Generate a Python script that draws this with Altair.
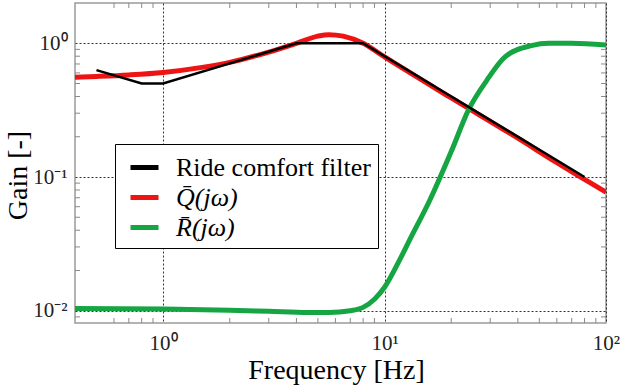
import altair as alt
import pandas as pd

# ---- data ----
series_names = ["Ride comfort filter", "Q\u0304(j\u03c9)", "R\u0304(j\u03c9)"]
series_colors = ["#000000", "#ee1414", "#15a542"]

filter_f = [0.5, 0.8, 1.0, 4.0, 8.0, 80.0]
filter_g = [0.63, 0.5, 0.5, 1.0, 1.0, 0.1]

q_f = [0.4, 0.5, 0.7, 1.0, 1.5, 2.0, 3.0, 4.0, 5.0, 5.6, 6.5, 8.0, 10, 20, 40, 60, 80, 100]
q_g = [0.557, 0.565, 0.58, 0.605, 0.66, 0.72, 0.86, 1.0, 1.13, 1.16, 1.13, 1.0,
       0.79, 0.39, 0.195, 0.128, 0.096, 0.077]

r_f = [0.4, 1, 2, 3, 4.5, 5.6, 7, 8, 9, 10, 11.7, 13, 16, 20, 24, 29, 35, 46, 55, 70, 100]
r_g = [0.0104, 0.0103, 0.0101, 0.0099, 0.0097, 0.0097, 0.0100, 0.0106, 0.0122, 0.015,
       0.024, 0.034, 0.067, 0.155, 0.32, 0.53, 0.79, 0.96, 1.0, 1.0, 0.97]

x_major = [1, 10, 100]
x_major_labels = ["10\u2070", "10\u00b9", "10\u00b2"]
y_major = [0.01, 0.1, 1]
y_major_labels = ["10\u207b\u00b2", "10\u207b\u00b9", "10\u2070"]

x_minor = [0.6, 0.7, 0.8, 0.9, 2, 3, 4, 5, 6, 7, 8, 9, 20, 30, 40, 50, 60, 70, 80, 90]
y_minor = [0.009, 0.02, 0.03, 0.04, 0.05, 0.06, 0.07, 0.08, 0.09,
           0.2, 0.3, 0.4, 0.5, 0.6, 0.7, 0.8, 0.9]

x_domain = [0.4, 100]
y_domain = [0.0081, 2.0]

W, H = 531, 320
FONT = "Liberation Serif"


def label_expr(vals, labels):
    expr = "''"
    for v, l in reversed(list(zip(vals, labels))):
        expr = f"datum.value == {v} ? '{l}' : ({expr})"
    return expr


df_filter = pd.DataFrame({"f": filter_f, "g": filter_g, "s": series_names[0]})
df_q = pd.DataFrame({"f": q_f, "g": q_g, "s": series_names[1]})
df_r = pd.DataFrame({"f": r_f, "g": r_g, "s": series_names[2]})
df_xt = pd.DataFrame({"f": x_minor})
df_yt = pd.DataFrame({"g": y_minor})

xs = alt.Scale(type="log", domain=x_domain, nice=False)
ys = alt.Scale(type="log", domain=y_domain, nice=False)

xaxis = alt.Axis(
    values=x_major, labelExpr=label_expr(x_major, x_major_labels),
    grid=True, gridDash=[2, 2], gridColor="#333333", gridWidth=1,
    ticks=False, tickSize=0, domain=False,
    labelFontSize=21, labelColor="#222222", labelPadding=9,
    labelFlush=False, labelOverlap=False,
    title="Frequency [Hz]", titleFontSize=28, titleFontWeight="normal",
    titleColor="#000000", titleX=261, titleY=55, titleBaseline="alphabetic",
)
yaxis = alt.Axis(
    values=y_major, labelExpr=label_expr(y_major, y_major_labels),
    grid=True, gridDash=[2, 2], gridColor="#333333", gridWidth=1,
    ticks=False, tickSize=0, domain=False,
    labelFontSize=21, labelColor="#222222", labelPadding=8,
    labelFlush=False, labelOverlap=False,
    title="Gain [-]", titleFontSize=28, titleFontWeight="normal",
    titleColor="#000000", titleX=-49, titleY=172, titleBaseline="alphabetic",
)

legend = alt.Legend(
    orient="none", legendX=40, legendY=141, title=None,
    symbolType="stroke", symbolStrokeWidth=5, symbolSize=784, symbolOffset=6,
    labelFontSize=26, labelColor="#000000",
    labelFontStyle=alt.ExprRef("datum.label == 'Ride comfort filter' ? 'normal' : 'italic'"),
    strokeColor="#000000", fillColor="#ffffff", padding=7, rowPadding=0, labelOffset=15,
    labelLimit=400,
)
color = alt.Color("s:N", scale=alt.Scale(domain=series_names, range=series_colors), legend=legend)


def line(df, width, interp):
    return alt.Chart(df).mark_line(strokeWidth=width, interpolate=interp, clip=True).encode(
        x=alt.X("f:Q", scale=xs, axis=xaxis),
        y=alt.Y("g:Q", scale=ys, axis=yaxis),
        color=color,
    )


tick_style = dict(color="#8a8a8a", strokeWidth=1)
bottom_ticks = alt.Chart(df_xt).mark_rule(**tick_style).encode(
    x=alt.X("f:Q", scale=xs, axis=xaxis), y=alt.value(H), y2=alt.value(H - 5))
top_ticks = alt.Chart(df_xt).mark_rule(**tick_style).encode(
    x=alt.X("f:Q", scale=xs, axis=xaxis), y=alt.value(0), y2=alt.value(5))
left_ticks = alt.Chart(df_yt).mark_rule(**tick_style).encode(
    y=alt.Y("g:Q", scale=ys, axis=yaxis), x=alt.value(0), x2=alt.value(5))
right_ticks = alt.Chart(df_yt).mark_rule(**tick_style).encode(
    y=alt.Y("g:Q", scale=ys, axis=yaxis), x=alt.value(W), x2=alt.value(W - 5))

chart = alt.layer(
    bottom_ticks, top_ticks, left_ticks, right_ticks,
    line(df_q, 5, "monotone"),
    line(df_r, 5, "monotone"),
    line(df_filter, 2.5, "linear"),
).properties(
    width=W, height=H,
    autosize=alt.AutoSizeParams(type="none"),
    padding={"left": 75, "top": 3, "right": 15, "bottom": 64},
    background="#ffffff",
).configure(
    font=FONT,
).configure_axis(
    labelFont=FONT, titleFont=FONT,
).configure_legend(
    labelFont=FONT, titleFont=FONT,
).configure_view(stroke="#9a9a9a", strokeWidth=1.5)

chart.save("out.html", embed_options={"renderer": "svg", "actions": False})
